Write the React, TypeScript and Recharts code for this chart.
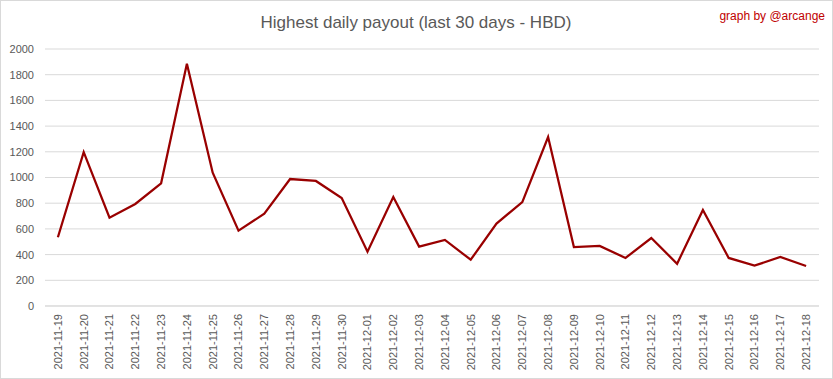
import React from "react";
import { LineChart, Line, XAxis, YAxis, CartesianGrid } from "recharts";

const dates = [
  "2021-11-19", "2021-11-20", "2021-11-21", "2021-11-22", "2021-11-23", "2021-11-24",
  "2021-11-25", "2021-11-26", "2021-11-27", "2021-11-28", "2021-11-29", "2021-11-30",
  "2021-12-01", "2021-12-02", "2021-12-03", "2021-12-04", "2021-12-05", "2021-12-06",
  "2021-12-07", "2021-12-08", "2021-12-09", "2021-12-10", "2021-12-11", "2021-12-12",
  "2021-12-13", "2021-12-14", "2021-12-15", "2021-12-16", "2021-12-17", "2021-12-18",
];

const payouts = [
  535, 1198, 687, 794, 955, 1885, 1037, 586, 718, 988, 973, 840,
  423, 848, 462, 514, 360, 641, 809, 1315, 459, 467, 374, 529,
  329, 747, 374, 314, 381, 311,
];

const yTicks = [0, 200, 400, 600, 800, 1000, 1200, 1400, 1600, 1800, 2000];

const data = dates.map((d, i) => ({ date: d, value: payouts[i] }));

const FONT = "'Liberation Sans', Arial, sans-serif";

const XTick = (props: any) => {
  const { x, y, payload } = props;
  return (
    <text
      x={x}
      y={y}
      transform={`rotate(-90, ${x}, ${y})`}
      textAnchor="end"
      dy="0.35em"
      fontSize={11}
      fontFamily={FONT}
      fill="#595959"
    >
      {payload.value}
    </text>
  );
};

export default function App() {
  return (
    <div
      style={{
        position: "absolute",
        left: 0,
        top: 0,
        width: 833,
        height: 379,
        boxSizing: "border-box",
        border: "1px solid #d9d9d9",
        background: "#fff",
      }}
    >
      <div style={{ position: "absolute", left: -1, top: -1 }}>
        <LineChart
          width={833}
          height={379}
          data={data}
          margin={{ top: 49, right: 14, left: 0, bottom: 0 }}
        >
          <text
            x={416}
            y={28}
            textAnchor="middle"
            fontSize={17}
            fontFamily={FONT}
            fill="#595959"
          >
            Highest daily payout (last 30 days - HBD)
          </text>
          <text
            x={825}
            y={20}
            textAnchor="end"
            fontSize={12}
            fontFamily={FONT}
            fill="#c00000"
          >
            graph by @arcange
          </text>
          <CartesianGrid vertical={false} stroke="#d9d9d9" strokeWidth={1} />
          <XAxis
            dataKey="date"
            height={73}
            interval={0}
            padding={{ left: 12.9, right: 12.9 }}
            tickLine={false}
            axisLine={{ stroke: "#d9d9d9" }}
            tick={<XTick />}
          />
          <YAxis
            width={45}
            domain={[0, 2000]}
            ticks={yTicks}
            interval={0}
            tickLine={false}
            axisLine={false}
            tickMargin={5}
            tick={{ fontSize: 11, fontFamily: FONT, fill: "#595959" }}
          />
          <Line
            type="linear"
            dataKey="value"
            stroke="#990000"
            strokeWidth={2.25}
            dot={false}
            isAnimationActive={false}
          />
        </LineChart>
      </div>
    </div>
  );
}
